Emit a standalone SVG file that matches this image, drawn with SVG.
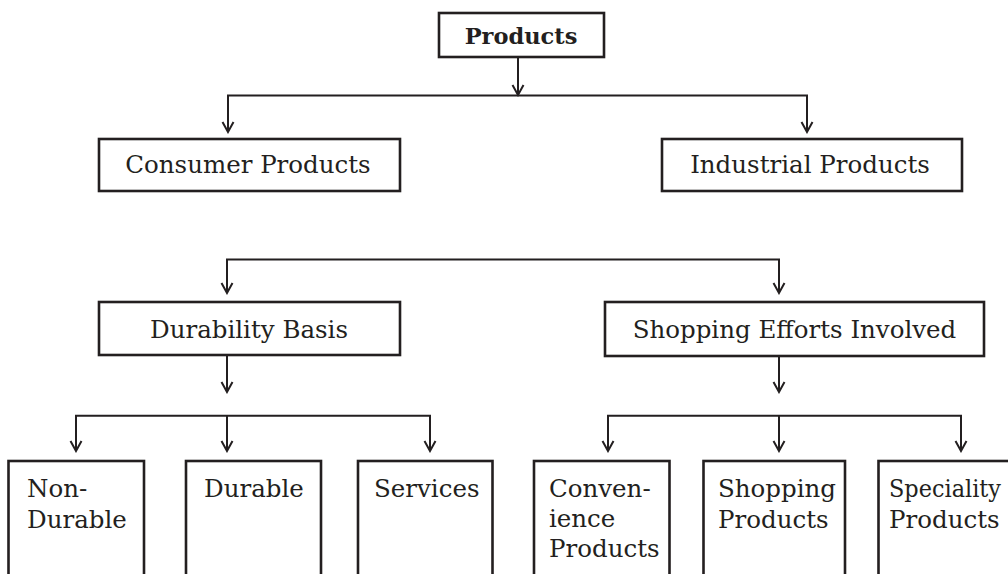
<svg xmlns="http://www.w3.org/2000/svg" width="1008" height="574" viewBox="0 0 1008 574">
<defs>
<style>
.box{fill:#fff;stroke:#231f20;stroke-width:2.6}
.t{font-family:"DejaVu Serif","Liberation Serif",serif;font-size:24.5px;fill:#231f20}
.c{text-anchor:middle}
.b{font-weight:bold;font-size:22.5px}
.ln{fill:none;stroke:#231f20;stroke-width:2}
</style>
<marker id="ah" viewBox="-12 -7 14 14" refX="0" refY="0" markerWidth="14" markerHeight="14" markerUnits="userSpaceOnUse" orient="auto">
<path d="M-10,-5.5 L0,0 L-10,5.5" fill="none" stroke="#231f20" stroke-width="2"/>
</marker>
</defs>
<rect width="1008" height="574" fill="#fff"/>
<g id="connectors">
<path class="ln" d="M518,57 V95" marker-end="url(#ah)"/>
<path class="ln" d="M228,132 V95.5 H807 V132"/>
<path class="ln" d="M228,120 V132" marker-end="url(#ah)"/>
<path class="ln" d="M807,120 V132" marker-end="url(#ah)"/>
<path class="ln" d="M227,293 V259.5 H779 V293"/>
<path class="ln" d="M227,280 V293" marker-end="url(#ah)"/>
<path class="ln" d="M779,280 V293" marker-end="url(#ah)"/>
<path class="ln" d="M227,355 V392" marker-end="url(#ah)"/>
<path class="ln" d="M779,356 V392" marker-end="url(#ah)"/>
<path class="ln" d="M76,451 V415.7 H430 V451"/>
<path class="ln" d="M227,415.7 V451" marker-end="url(#ah)"/>
<path class="ln" d="M76,440 V451" marker-end="url(#ah)"/>
<path class="ln" d="M430,440 V451" marker-end="url(#ah)"/>
<path class="ln" d="M608,451 V415.7 H961 V451"/>
<path class="ln" d="M779,415.7 V451" marker-end="url(#ah)"/>
<path class="ln" d="M608,440 V451" marker-end="url(#ah)"/>
<path class="ln" d="M961,440 V451" marker-end="url(#ah)"/>
</g>
<g id="n-products">
<rect class="box" x="439" y="13" width="165" height="44"/>
<text class="t b c" x="521" y="44">Products</text>
</g>
<g id="n-consumer">
<rect class="box" x="99" y="139" width="301" height="52"/>
<text class="t c" x="248" y="173">Consumer Products</text>
</g>
<g id="n-industrial">
<rect class="box" x="662" y="139" width="300" height="52"/>
<text class="t c" x="810" y="173">Industrial Products</text>
</g>
<g id="n-durability">
<rect class="box" x="99" y="302" width="301" height="53"/>
<text class="t c" x="249" y="338">Durability Basis</text>
</g>
<g id="n-shopping-efforts">
<rect class="box" x="605" y="302" width="379" height="54"/>
<text class="t c" x="794.5" y="338">Shopping Efforts Involved</text>
</g>
<g id="n-nondurable">
<rect class="box" x="8.5" y="461" width="135.5" height="140"/>
<text class="t" x="27" y="497">Non-</text>
<text class="t" x="27" y="528">Durable</text>
</g>
<g id="n-durable">
<rect class="box" x="186" y="461" width="135" height="140"/>
<text class="t" x="204" y="497">Durable</text>
</g>
<g id="n-services">
<rect class="box" x="358" y="461" width="134.5" height="140"/>
<text class="t" x="374" y="497">Services</text>
</g>
<g id="n-convenience">
<rect class="box" x="534" y="461" width="135.5" height="140"/>
<text class="t" x="549" y="497">Conven-</text>
<text class="t" x="549" y="527">ience</text>
<text class="t" x="549" y="557">Products</text>
</g>
<g id="n-shopping">
<rect class="box" x="703.5" y="461" width="141.5" height="140"/>
<text class="t" x="718" y="497">Shopping</text>
<text class="t" x="718" y="528">Products</text>
</g>
<g id="n-speciality">
<rect class="box" x="878.5" y="461" width="160" height="140"/>
<text class="t" x="889" y="497" textLength="112" lengthAdjust="spacingAndGlyphs">Speciality</text>
<text class="t" x="889" y="528">Products</text>
</g>
</svg>
